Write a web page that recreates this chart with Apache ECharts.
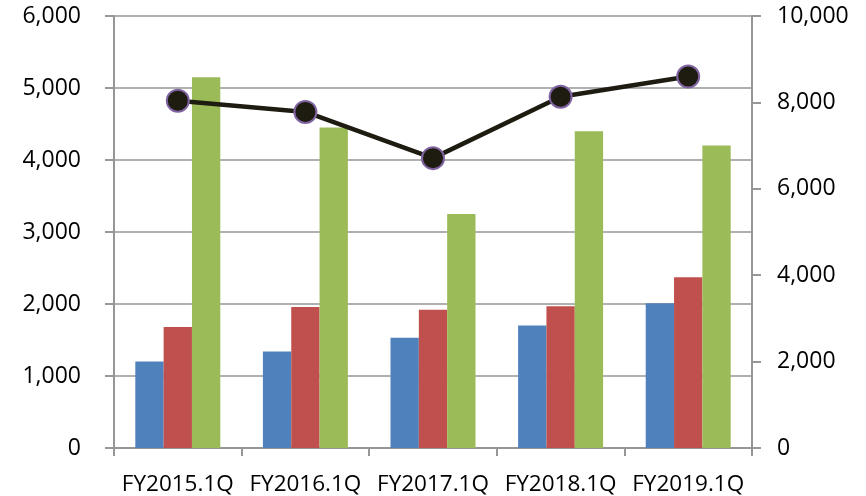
<!DOCTYPE html>
<html>
<head>
<meta charset="utf-8">
<style>
  html, body { margin: 0; padding: 0; background: #ffffff; }
  #chart { width: 866px; height: 496px; }
</style>
<script src="https://cdn.jsdelivr.net/npm/echarts@6/dist/echarts.min.js"></script>
</head>
<body>
<div id="chart"></div>
<script>
// Quarterly figures (left axis: bars, right axis: line)
const categories = ['FY2015.1Q', 'FY2016.1Q', 'FY2017.1Q', 'FY2018.1Q', 'FY2019.1Q'];
const seriesA = [1200, 1340, 1530, 1700, 2010];
const seriesB = [1680, 1960, 1920, 1970, 2370];
const seriesC = [5150, 4450, 3250, 4400, 4200];
const lineValues = [8040, 7780, 6710, 8130, 8600];

const leftAxisMax = 6000;
const leftAxisStep = 1000;
const rightAxisMax = 10000;
const rightAxisStep = 2000;

const fontFamily = '"Open Sans", "Noto Sans", sans-serif';
const axisGray = '#969696';
const fmt = v => Number(v).toLocaleString('en-US');

const chart = echarts.init(document.getElementById('chart'), null, { renderer: 'canvas' });

chart.setOption({
  animation: false,
  backgroundColor: '#ffffff',
  grid: { left: 114, right: 114, top: 16, bottom: 48, containLabel: false },
  xAxis: {
    type: 'category',
    data: categories,
    axisLine: { show: true, lineStyle: { color: axisGray, width: 2 } },
    axisTick: { show: true, length: 8, lineStyle: { color: axisGray, width: 2 } },
    axisLabel: {
      color: '#000', fontSize: 22.5, fontFamily: fontFamily, margin: 25,
      interval: 0, hideOverlap: false
    },
    splitLine: { show: false }
  },
  yAxis: [
    {
      type: 'value',
      min: 0, max: leftAxisMax, interval: leftAxisStep,
      axisLine: { show: true, lineStyle: { color: axisGray, width: 2 } },
      axisTick: { show: true, length: 9, lineStyle: { color: axisGray, width: 2 } },
      axisLabel: { color: '#000', fontSize: 23, fontFamily: fontFamily, margin: 33, formatter: fmt },
      splitLine: { show: true, lineStyle: { color: axisGray, width: 1.6 } }
    },
    {
      type: 'value',
      min: 0, max: rightAxisMax, interval: rightAxisStep,
      position: 'right',
      axisLine: { show: true, lineStyle: { color: axisGray, width: 2 } },
      axisTick: { show: true, length: 9, lineStyle: { color: axisGray, width: 2 } },
      axisLabel: { color: '#000', fontSize: 23, fontFamily: fontFamily, margin: 25, formatter: fmt },
      splitLine: { show: false }
    }
  ],
  series: [
    {
      type: 'bar', data: seriesA, yAxisIndex: 0,
      itemStyle: { color: '#4f81bd' },
      barGap: '0%', barCategoryGap: '33.4%'
    },
    {
      type: 'bar', data: seriesB, yAxisIndex: 0,
      itemStyle: { color: '#c0504d' },
      barGap: '0%', barCategoryGap: '33.4%'
    },
    {
      type: 'bar', data: seriesC, yAxisIndex: 0,
      itemStyle: { color: '#9bbb59' },
      barGap: '0%', barCategoryGap: '33.4%'
    },
    {
      type: 'line', data: lineValues, yAxisIndex: 1,
      lineStyle: { color: '#1e1b11', width: 4.5 },
      symbol: 'circle', symbolSize: 22,
      itemStyle: { color: '#1e1b11', borderColor: '#8064a2', borderWidth: 2 },
      z: 5
    }
  ]
});
</script>
</body>
</html>
